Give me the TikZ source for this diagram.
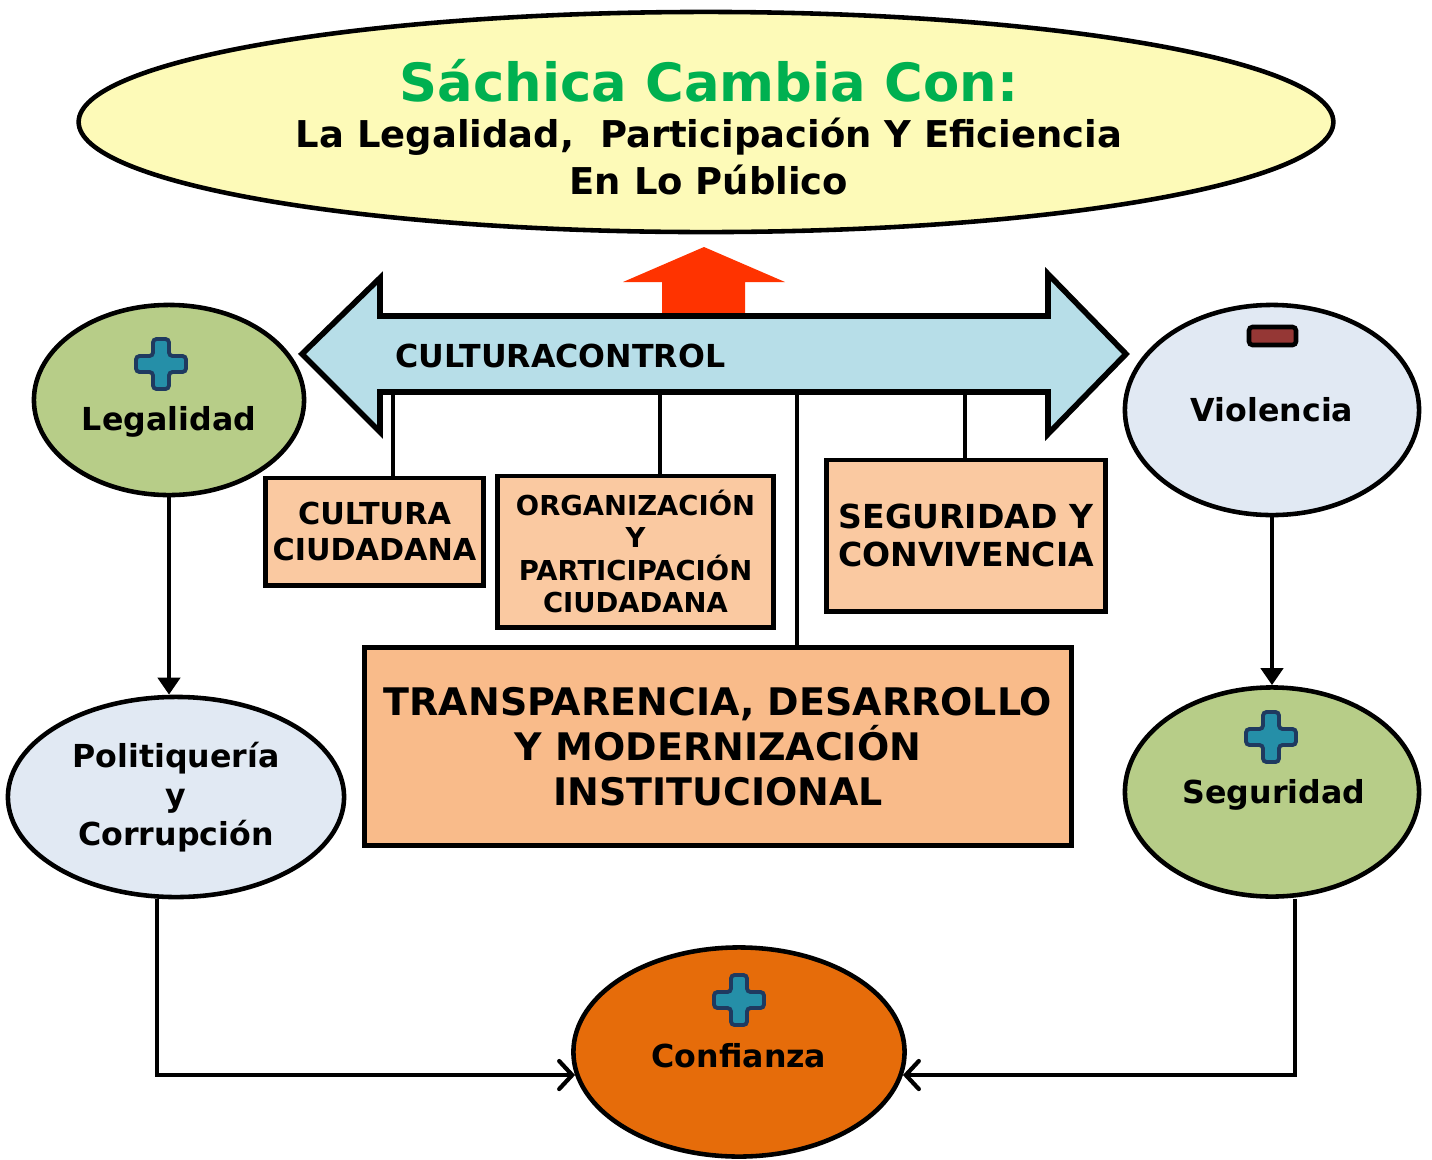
\documentclass[tikz,border=0pt]{standalone}
\usepackage{fontspec}
\setmainfont{DejaVu Sans}
\usetikzlibrary{positioning, shapes.geometric, arrows.meta}
\definecolor{goalfill}{HTML}{FDFAB8}
\definecolor{titlegreen}{HTML}{00B050}
\definecolor{ctrlblue}{HTML}{B7DEE8}
\definecolor{upred}{HTML}{FF3300}
\definecolor{posgreen}{HTML}{B7CD88}
\definecolor{neglight}{HTML}{E1E9F3}
\definecolor{trustorange}{HTML}{E66C0A}
\definecolor{peach}{HTML}{FAC9A1}
\definecolor{peachdark}{HTML}{F9BB8A}
\definecolor{plusfill}{HTML}{258FA8}
\definecolor{plusedge}{HTML}{1F3A60}
\definecolor{minusred}{HTML}{953735}

\tikzset{
  plusicon/.pic={
    \draw[line width=1.1pt, draw=plusedge, fill=plusfill, rounded corners=1pt]
      (-8,-25) -- (8,-25) -- (8,-8) -- (25,-8) -- (25,8) -- (8,8) -- (8,25)
      -- (-8,25) -- (-8,8) -- (-25,8) -- (-25,-8) -- (-8,-8) -- cycle;
  },
}

\begin{document}
\begin{tikzpicture}[
  x=0.01cm, y=-0.01cm,
  oval/.style={ellipse, draw, line width=1.3pt, fill=#1, inner sep=0pt,
               align=center, font=\bfseries\fontsize{9}{11}\selectfont},
  blk/.style={draw, line width=1.4pt, fill=#1, inner sep=0pt, align=center},
  link/.style={line width=1.2pt},
  arr/.style={line width=1.2pt, -{Triangle[length=0.17cm, width=0.22cm]}},
  barb/.style={line width=1.2pt,
               -{Straight Barb[length=0.13cm, width=0.28cm, line cap=round]}},
]
\useasboundingbox (0,0) rectangle (1432,1160);

%% ===== TOP: GOAL =====

\node[oval=goalfill, minimum width=12.54cm, minimum height=2.2cm] (goal) at (706,122) {};
\node[align=center, font=\bfseries\fontsize{10.5}{13.3}\selectfont] (goaltxt) at (709,127)
    {{\fontsize{15}{18}\selectfont\color{titlegreen}Sáchica Cambia Con:}\\
     La Legalidad,~~Participación Y Eficiencia\\
     En Lo Público};

%% ===== MIDDLE: CONTROL ARROW =====

\fill[upred] (704,247) -- (785,282) -- (745,282) -- (745,318) -- (662,318)
    -- (662,282) -- (623,282) -- cycle;

\draw[line width=1.6pt, fill=ctrlblue]
    (302,354) -- (380,278) -- (380,316) -- (1048,316) -- (1048,274)
    -- (1126,354) -- (1048,434) -- (1048,392) -- (380,392) -- (380,432) -- cycle;
\node[anchor=west, inner sep=0pt, font=\bfseries\fontsize{9}{11}\selectfont] (ctrltxt)
    at (395,356) {CULTURACONTROL};

\coordinate (k1) at (393,392);
\coordinate (k2) at (660,392);
\coordinate (k3) at (797,392);
\coordinate (k4) at (965,392);

%% ===== BOXES =====

\node[blk=peach, minimum width=2.17cm, minimum height=1.07cm,
      font=\bfseries\fontsize{8.6}{10}\selectfont] (cult) at (374.5,531.5)
    {CULTURA\\CIUDADANA};

\node[blk=peach, minimum width=2.75cm, minimum height=1.51cm,
      font=\bfseries\fontsize{7.8}{9.2}\selectfont] (org) at (635.5,551.5)
    {ORGANIZACIÓN\\Y\\PARTICIPACIÓN\\CIUDADANA};

\node[blk=peach, minimum width=2.78cm, minimum height=1.51cm,
      font=\bfseries\fontsize{9.4}{10.8}\selectfont] (conv) at (966,535.5)
    {SEGURIDAD Y\\CONVIVENCIA};

\node[blk=peachdark, minimum width=7.06cm, minimum height=1.97cm,
      font=\bfseries\fontsize{10.8}{12.8}\selectfont] (trans) at (718,746.5)
    {TRANSPARENCIA, DESARROLLO\\Y MODERNIZACIÓN\\INSTITUCIONAL};

%% ===== SIDES: ELLIPSES =====

\node[oval=posgreen, minimum width=2.7cm, minimum height=1.9cm] (leg) at (169,400) {};
\node[font=\bfseries\fontsize{9}{11}\selectfont] (legtxt) at (169,422) {Legalidad};
\pic at (161,364) {plusicon};

\node[oval=neglight, minimum width=3.36cm, minimum height=2.0cm] (pol) at (176,797)
    {Politiquería\\y\\Corrupción};

\node[oval=neglight, minimum width=2.94cm, minimum height=2.1cm] (viol) at (1272,410)
    {Violencia};
\draw[line width=1.3pt, fill=minusred, rounded corners=1pt] (1249,327) rectangle (1296,345);

\node[oval=posgreen, minimum width=2.94cm, minimum height=2.09cm] (seg) at (1272,792) {};
\node[font=\bfseries\fontsize{9}{11}\selectfont] (segtxt) at (1274,795) {Seguridad};
\pic at (1271,737) {plusicon};

\node[oval=trustorange, minimum width=3.31cm, minimum height=2.09cm] (conf) at (739,1052) {};
\node[font=\bfseries\fontsize{9}{11}\selectfont] (conftxt) at (739,1056) {Confianza};
\pic at (739,1000) {plusicon};

%% ===== CONNECTORS =====

\draw[link] (k1) -- (k1 |- cult.north);
\draw[link] (k2) -- (k2 |- org.north);
\draw[link] (k3) -- (k3 |- trans.north);
\draw[link] (k4) -- (k4 |- conv.north);

\draw[arr] (leg.south) -- (leg.south |- pol.north);
\draw[arr] (viol) -- (seg);

\draw[barb] ([xshift=-0.19cm]pol.south) |- (conf.188);
\draw[barb] ([xshift=0.23cm]seg.south) |- (conf.-8);

\end{tikzpicture}
\end{document}
